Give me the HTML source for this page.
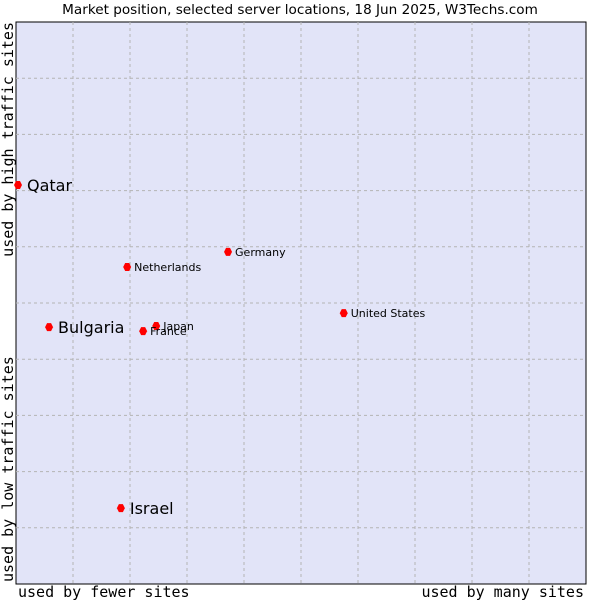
<!DOCTYPE html>
<html><head><meta charset="utf-8"><style>
body{margin:0;background:#fff;}
svg{display:block;}
</style></head><body>
<svg id="chart" width="600" height="600" xmlns="http://www.w3.org/2000/svg">
<text x="300" y="14" text-anchor="middle" font-family="DejaVu Sans, sans-serif" font-size="13.6" fill="#000">Market position, selected server locations, 18 Jun 2025, W3Techs.com</text>
<rect x="16" y="22" width="570" height="562" fill="#e2e4f8" stroke="#000" stroke-width="1"/>
<g id="grid"></g>
<text x="18" y="597" font-family="DejaVu Sans Mono, monospace" font-size="15">used by fewer sites</text>
<text x="584" y="597" text-anchor="end" font-family="DejaVu Sans Mono, monospace" font-size="15">used by many sites</text>
<text transform="translate(13,22) rotate(-90)" text-anchor="end" font-family="DejaVu Sans Mono, monospace" font-size="15">used by high traffic sites</text>
<text transform="translate(13,582) rotate(-90)" font-family="DejaVu Sans Mono, monospace" font-size="15">used by low traffic sites</text>
<g id="points"></g>
</svg>
<script>
const countries = ["Qatar","Bulgaria","Netherlands","Germany","United States","Japan","France","Israel"];
const siteShare = [0.35,5.8,19.5,37.2,57.5,24.6,22.3,18.4];
const trafficRank = [71.0,45.7,56.4,59.1,48.2,45.9,45.0,13.5];
const highlighted = [true,true,false,false,false,false,false,true];
const gridTicks = [10,20,30,40,50,60,70,80,90];
const NS="http://www.w3.org/2000/svg";
const X0=16,W=570,Y0=22,H=562;
const xs=v=>X0+v/100*W, ys=v=>Y0+H-v/100*H;
const grid=document.getElementById('grid');
gridTicks.forEach(t=>{
  const v=document.createElementNS(NS,'line');
  
  
  v.setAttribute('x1',xs(t));v.setAttribute('x2',xs(t));v.setAttribute('y1',Y0);v.setAttribute('y2',Y0+H);
  v.setAttribute('stroke','#b4b4b4');v.setAttribute('stroke-dasharray','3,3');grid.appendChild(v);
  const h=document.createElementNS(NS,'line');
  
  
  h.setAttribute('y1',ys(t));h.setAttribute('y2',ys(t));h.setAttribute('x1',X0);h.setAttribute('x2',X0+W);
  h.setAttribute('stroke','#b4b4b4');h.setAttribute('stroke-dasharray','3,3');grid.appendChild(h);
});
const pts=document.getElementById('points');
countries.forEach((c,i)=>{
  const x=xs(siteShare[i]),y=ys(trafficRank[i]);
  const d=document.createElementNS(NS,'path');
  
  
  d.setAttribute('d',`M${x-4},${y}L${x-2},${y-4}L${x+2},${y-4}L${x+4},${y}L${x+2},${y+4}L${x-2},${y+4}Z`);
  d.setAttribute('fill','#ff0000');pts.appendChild(d);
  const t=document.createElementNS(NS,'text');
  
  
  const big=highlighted[i];
  t.setAttribute('x',x+(big?9:7));t.setAttribute('y',y+(big?6:4));
  t.setAttribute('font-family','DejaVu Sans, sans-serif');
  t.setAttribute('font-size',big?16:11);
  t.textContent=c;pts.appendChild(t);
});
</script>
</body></html>
